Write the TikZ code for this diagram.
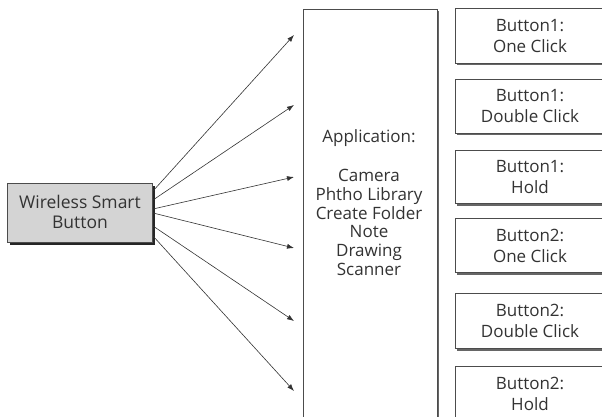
\documentclass[tikz,border=0pt]{standalone}
\usepackage{fontspec}
\setmainfont{Open Sans}
\usetikzlibrary{shadows,arrows.meta}
\begin{document}
\begin{tikzpicture}[x=1pt,y=-1pt,
  box/.style={draw=black!70,line width=0.9pt,fill=white,drop shadow={shadow xshift=2pt,shadow yshift=-2.5pt,fill=black!60,opacity=1}},
  srcbox/.style={draw=black!70,line width=0.9pt,fill=black!17,drop shadow={shadow xshift=3pt,shadow yshift=-3pt,fill=black!85,opacity=1}},
  lbl/.style={font=\fontsize{17}{21}\selectfont,text=black!80,align=center,inner sep=0pt},
  applbl/.style={font=\fontsize{17}{18.75}\selectfont,text=black!80,align=center,inner sep=0pt},
  arr/.style={-{Latex[length=7pt,width=5pt]},line width=0.6pt,black!80}]
\useasboundingbox (0,0) rectangle (602,417);
\begin{scope}
\clip (0,0) rectangle (602,417);
% source
\draw[srcbox] (7,183) rectangle (152,242);
\node[font=\fontsize{17.5}{20}\selectfont,text=black!80,align=center,inner sep=0pt] (src) at (80,212) {Wireless Smart\\Button};
% application
\draw[box] (303,9) rectangle (437,430);
\node[applbl] (apphead) at (369,138) {Application:};
\node[applbl,anchor=north] (applist) at (369,169) {Camera\\Phtho Library\\Create Folder\\Note\\Drawing\\Scanner};
% right boxes
\foreach \t/\b in {8/63,79/133,150/203,218/272,293/348,366/440}{
  \draw[box] (455,\t) rectangle (612,\b);
}
\node[lbl] (t1) at (530,36) {Button1:\\One Click};
\node[lbl] (t2) at (530,106) {Button1:\\Double Click};
\node[lbl] (t3) at (530,177) {Button1:\\Hold};
\node[lbl] (t4) at (530,246) {Button2:\\One Click};
\node[lbl] (t5) at (530,321) {Button2:\\Double Click};
\node[lbl] (t6) at (530,394) {Button2:\\Hold};
% arrows
\coordinate (s1) at (153,191);
\coordinate (s2) at (153,200);
\coordinate (s3) at (153,209);
\coordinate (s4) at (153,213);
\coordinate (s5) at (153,226);
\coordinate (s6) at (153,236);
\coordinate (e1) at (294,35);
\coordinate (e2) at (294,105);
\coordinate (e3) at (294,177);
\coordinate (e4) at (294,248);
\coordinate (e5) at (294,321);
\coordinate (e6) at (294,391);
\foreach \i in {1,...,6}{\draw[arr] (s\i) -- (e\i);}
\end{scope}
\end{tikzpicture}
\end{document}
